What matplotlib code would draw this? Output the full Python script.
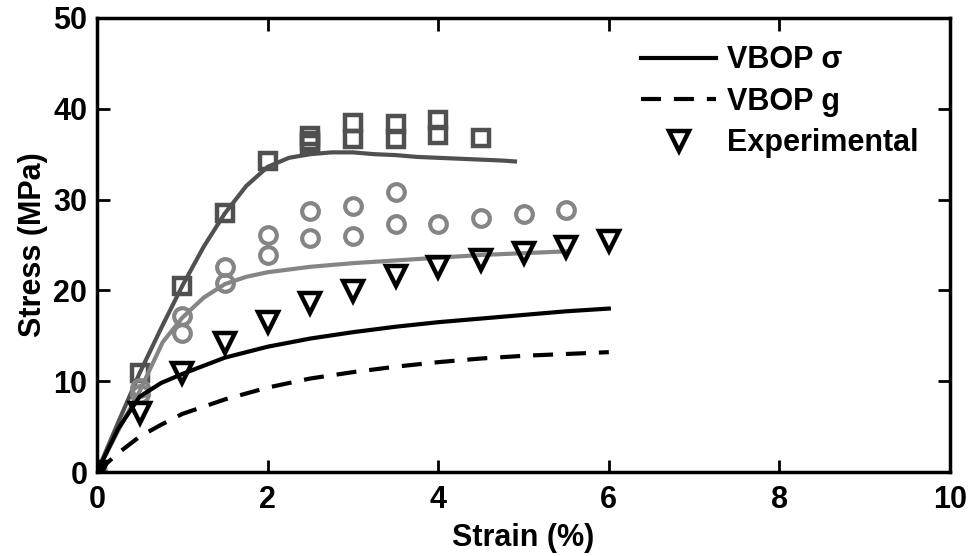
import matplotlib
matplotlib.use("Agg")
import matplotlib.pyplot as plt
import numpy as np

plt.rcParams['font.family'] = ['Liberation Sans', 'DejaVu Sans']
plt.rcParams['font.weight'] = 'bold'

# Experimental data, three specimens (strain %, stress MPa)
sq_strain = [0, 0.5, 1.0, 1.5, 2.0, 2.5, 2.5, 2.5, 3.0, 3.0, 3.5, 3.5, 4.0, 4.0, 4.5]
sq_stress = [0, 10.9, 20.5, 28.5, 34.2, 37.0, 36.5, 36.1, 38.4, 36.7, 38.3, 36.7, 38.8, 37.1, 36.8]

ci_strain = [0, 0.5, 0.5, 1.0, 1.0, 1.5, 1.5, 2.0, 2.0, 2.5, 2.5, 3.0, 3.0, 3.5, 3.5, 4.0, 4.5, 5.0, 5.5]
ci_stress = [0, 9.2, 8.6, 17.2, 15.3, 22.6, 20.8, 26.1, 23.9, 28.7, 25.8, 29.3, 26.0, 30.8, 27.3, 27.3, 28.0, 28.4, 28.9]

tri_strain = [0, 0.5, 1.0, 1.5, 2.0, 2.5, 3.0, 3.5, 4.0, 4.5, 5.0, 5.5, 6.0]
tri_stress = [0, 6.5, 10.9, 14.2, 16.5, 18.6, 19.9, 21.6, 22.6, 23.4, 24.1, 24.8, 25.4]

# Model curves
fit_sq_strain = [0, 0.25, 0.5, 0.75, 1.0, 1.25, 1.5, 1.75, 2.0, 2.25, 2.5, 2.75, 3.0,
                 3.25, 3.5, 3.75, 4.0, 4.25, 4.5, 4.75, 4.9]
fit_sq_stress = [0, 5.5, 10.9, 15.8, 20.5, 24.8, 28.5, 31.5, 33.6, 34.6, 35.0, 35.2, 35.2,
                 35.0, 34.9, 34.7, 34.6, 34.5, 34.4, 34.3, 34.2]

fit_ci_strain = [0, 0.25, 0.5, 0.77, 1.0, 1.25, 1.5, 1.75, 2.0, 2.5, 3.0, 3.5, 4.0, 4.5, 5.0, 5.5]
fit_ci_stress = [0, 4.6, 8.9, 14.3, 17.0, 19.2, 20.7, 21.5, 22.0, 22.6, 23.0, 23.3, 23.6, 23.9, 24.1, 24.3]

sigma_strain = [0, 0.25, 0.5, 0.75, 1.0, 1.5, 2.0, 2.5, 3.0, 3.5, 4.0, 4.5, 5.0, 5.5, 6.0]
sigma_stress = [0, 4.8, 8.3, 9.8, 10.8, 12.6, 13.8, 14.7, 15.4, 16.0, 16.5, 16.9, 17.3, 17.7, 18.0]

g_strain = [0, 0.25, 0.5, 0.75, 1.0, 1.5, 2.0, 2.5, 3.0, 3.5, 4.0, 4.5, 5.0, 5.5, 6.0]
g_stress = [0, 2.1, 3.9, 5.2, 6.4, 8.0, 9.3, 10.3, 11.0, 11.6, 12.1, 12.5, 12.8, 13.0, 13.2]

x_ticks = [0, 2, 4, 6, 8, 10]
y_ticks = [0, 10, 20, 30, 40, 50]

dark = '#505050'
mid = '#858585'
fs = 22

fig = plt.figure(figsize=(9.71, 5.56), dpi=100)
ax = fig.add_axes([0.0999, 0.151, 0.8785, 0.8167])

# specimen fits and data
ax.plot(fit_sq_strain, fit_sq_stress, color=dark, lw=3)
ax.plot(sq_strain, sq_stress, ls='none', marker='s', ms=11.5, mfc='none',
        mec=dark, mew=3.2)
ax.plot(fit_ci_strain, fit_ci_stress, color=mid, lw=3)
ax.plot(ci_strain, ci_stress, ls='none', marker='o', ms=12, mfc='none',
        mec=mid, mew=3)

# VBOP model
ax.plot(sigma_strain, sigma_stress, color='black', lw=3, label='VBOP σ')
ax.plot(g_strain, g_stress, color='black', lw=3, ls=(0, (4.8, 3.1)), label='VBOP g')
ax.plot(tri_strain, tri_stress, ls='none', marker='v', ms=14, mfc='none',
        mec='black', mew=3.2, label='Experimental')

ax.set_xlim(0, 10)
ax.set_ylim(0, 50)
ax.set_xticks(x_ticks)
ax.set_yticks(y_ticks)
ax.tick_params(direction='in', length=9, width=2, labelsize=fs,
               top=True, right=True)
ax.tick_params(axis='x', pad=9)
ax.tick_params(axis='y', pad=7)
for lab in ax.get_xticklabels() + ax.get_yticklabels():
    lab.set_fontweight('bold')
for sp in ax.spines.values():
    sp.set_linewidth(2.5)

ax.set_xlabel('Strain (%)', fontsize=fs, fontweight='bold', labelpad=6)
ax.set_ylabel('Stress (MPa)', fontsize=fs, fontweight='bold', labelpad=4)

leg = ax.legend(loc='upper left', bbox_to_anchor=(0.638, 0.94), frameon=False,
                fontsize=fs, handlelength=2.45, handletextpad=0.36,
                labelspacing=0.38, borderpad=0, borderaxespad=0)
for t in leg.get_texts():
    t.set_fontweight('bold')

fig.savefig('out.png', dpi=100)
